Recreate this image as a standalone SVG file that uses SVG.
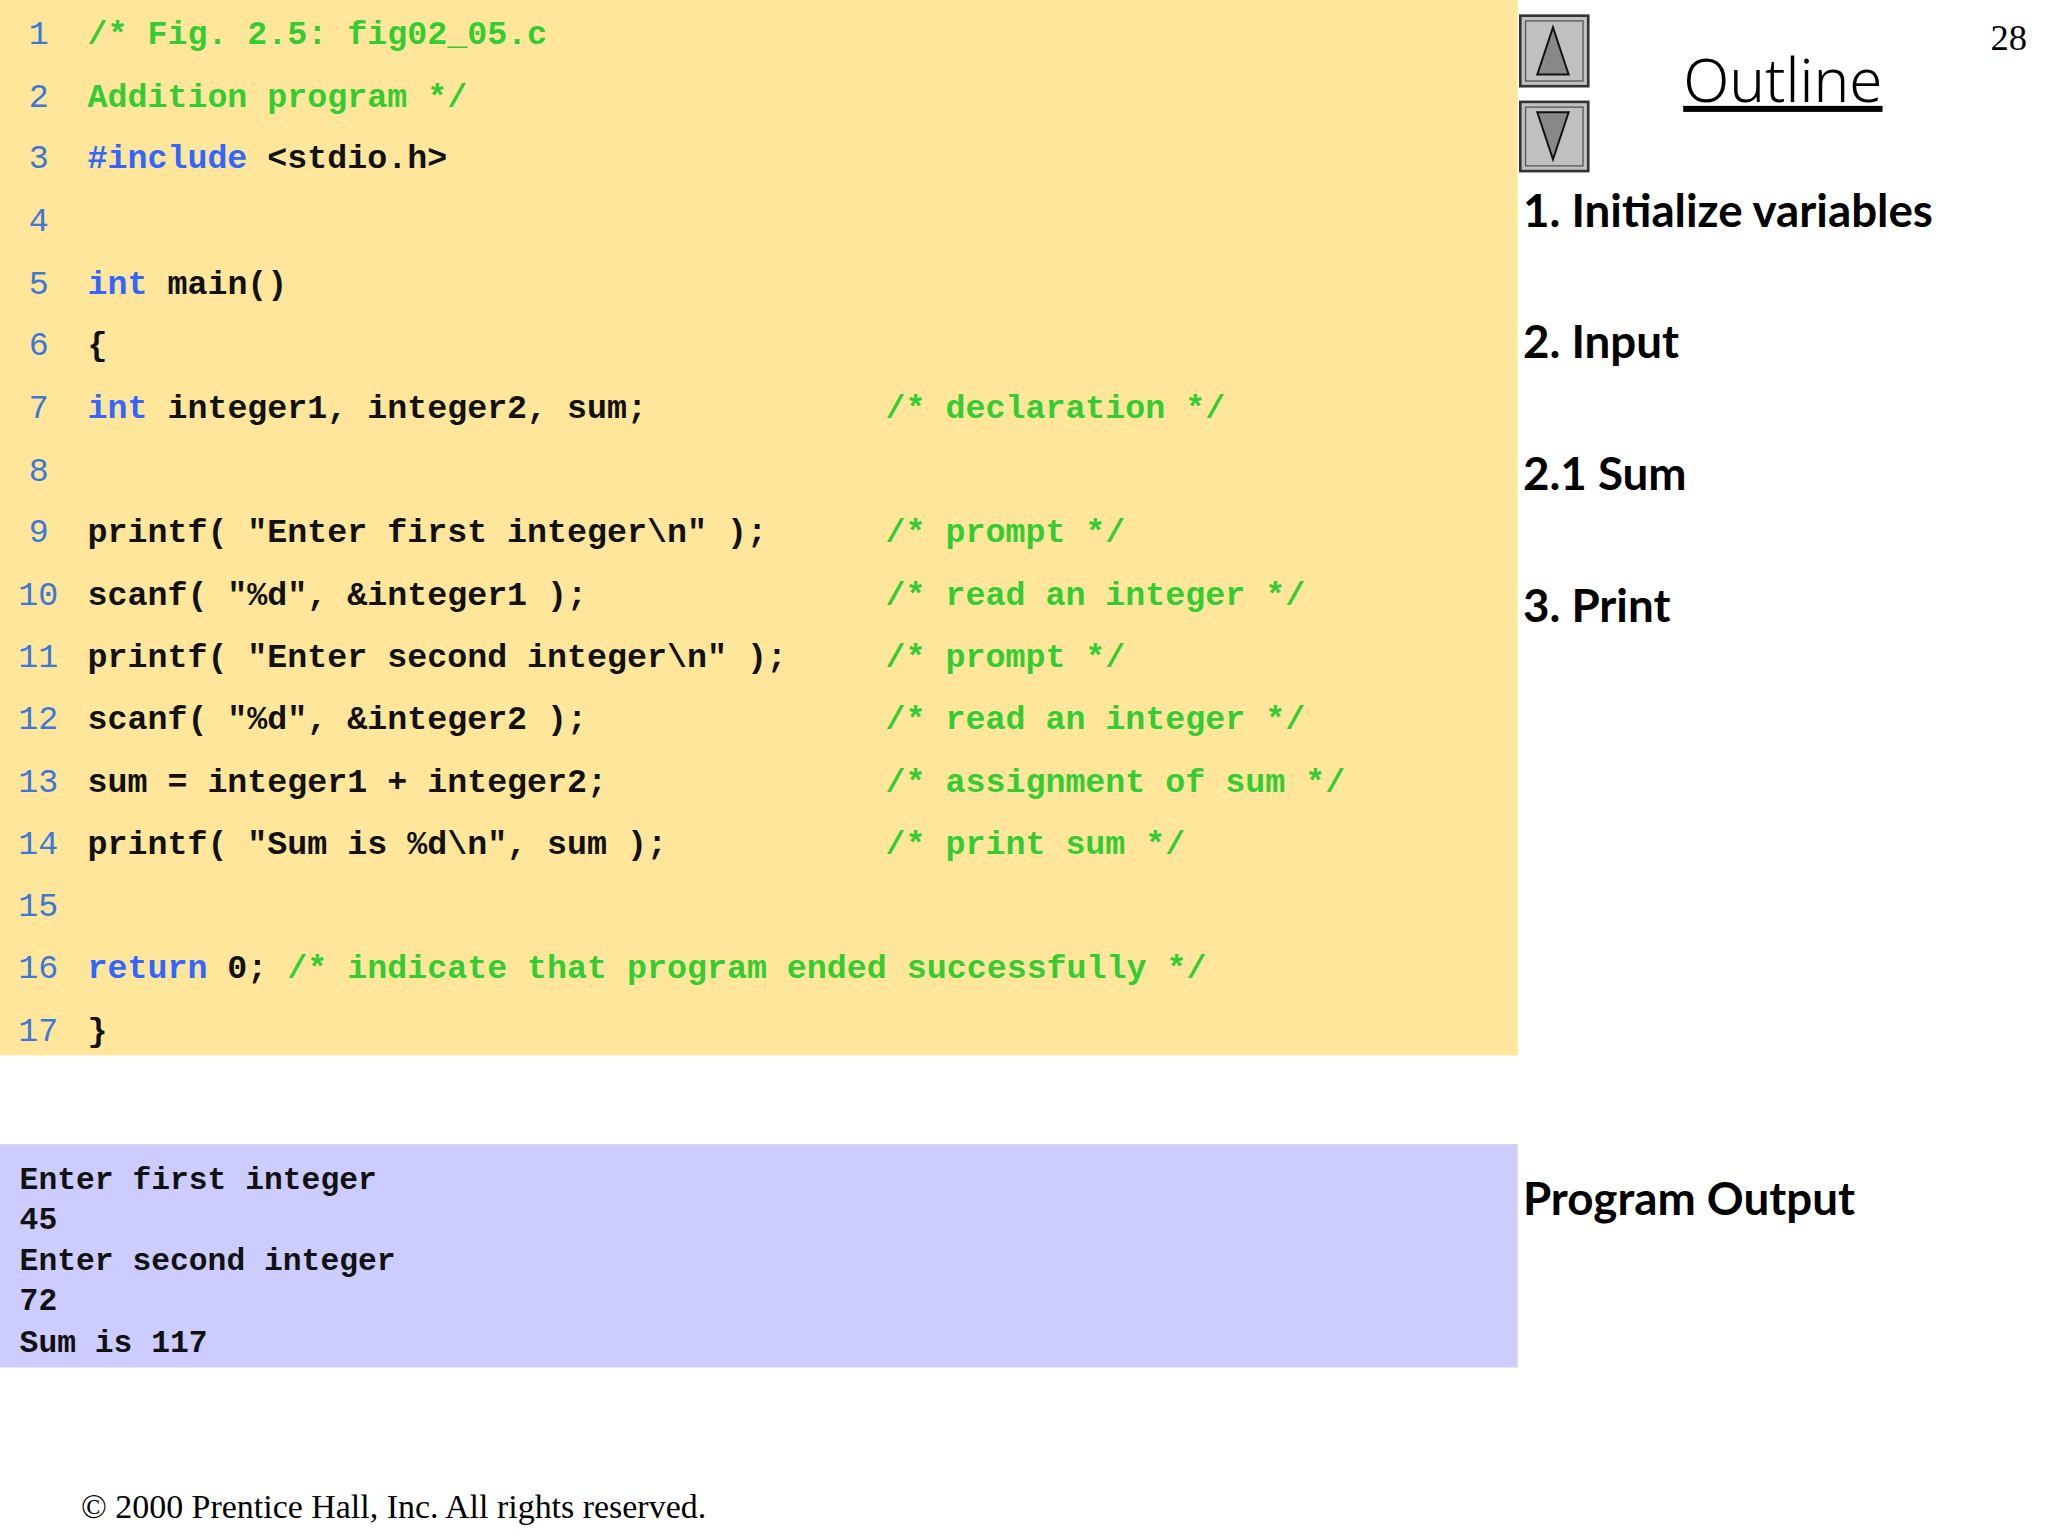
<svg xmlns="http://www.w3.org/2000/svg" width="2048" height="1536" viewBox="0 0 2048 1536">
<style>
.c{font-family:"Liberation Mono","DejaVu Sans Mono",monospace;font-weight:bold;font-size:25.5px;fill:#111;white-space:pre}
.n{fill:#3C78D8;font-weight:normal}
.k{fill:#3366FF}
.g{fill:#33CC33}
.o{font-family:"Liberation Mono",monospace;font-weight:bold;font-size:24px;fill:#111;white-space:pre}
.b{font-family:Lato,"Noto Sans",sans-serif;font-weight:bold;font-size:35px;fill:#000}
.btn{fill:#C0C0C0;stroke:#333;stroke-width:2}
.tri{fill:#888;stroke:#111;stroke-width:1.5}
</style>
<rect width="2048" height="1536" fill="#fff"/>
<g transform="scale(1.30612)">
<g id="code">
<rect x="0" y="0" width="1162" height="808" fill="#FFE69A"/>
<g class="c" xml:space="preserve">
<text x="22" y="34" class="n">1</text><text x="67" y="34" class="g">/* Fig. 2.5: fig02_05.c</text>
<text x="22" y="82" class="n">2</text><text x="67" y="82" class="g">   Addition program */</text>
<text x="22" y="129" class="n">3</text><text x="67" y="129"><tspan class="k">#include</tspan> &lt;stdio.h&gt;</text>
<text x="22" y="177" class="n">4</text>
<text x="22" y="225" class="n">5</text><text x="67" y="225"><tspan class="k">int</tspan> main()</text>
<text x="22" y="272" class="n">6</text><text x="67" y="272">{</text>
<text x="22" y="320" class="n">7</text><text x="67" y="320">   <tspan class="k">int</tspan> integer1, integer2, sum;</text><text x="678" y="320" class="g">/* declaration */</text>
<text x="22" y="368" class="n">8</text>
<text x="22" y="415" class="n">9</text><text x="67" y="415">   printf( "Enter first integer\n" );</text><text x="678" y="415" class="g">/* prompt */</text>
<text x="14" y="463" class="n">10</text><text x="67" y="463">   scanf( "%d", &amp;integer1 );</text><text x="678" y="463" class="g">/* read an integer */</text>
<text x="14" y="511" class="n">11</text><text x="67" y="511">   printf( "Enter second integer\n" );</text><text x="678" y="511" class="g">/* prompt */</text>
<text x="14" y="558" class="n">12</text><text x="67" y="558">   scanf( "%d", &amp;integer2 );</text><text x="678" y="558" class="g">/* read an integer */</text>
<text x="14" y="606" class="n">13</text><text x="67" y="606">   sum = integer1 + integer2;</text><text x="678" y="606" class="g">/* assignment of sum */</text>
<text x="14" y="654" class="n">14</text><text x="67" y="654">   printf( "Sum is %d\n", sum );</text><text x="678" y="654" class="g">/* print sum */</text>
<text x="14" y="701" class="n">15</text>
<text x="14" y="749" class="n">16</text><text x="67" y="749">   <tspan class="k">return</tspan> 0;  <tspan class="g">/* indicate that program ended successfully */</tspan></text>
<text x="14" y="797" class="n">17</text><text x="67" y="797">}</text>
</g>
</g>
<g id="output">
<rect x="0" y="876" width="1162" height="171" fill="#CCCCFF"/>
<g class="o" xml:space="preserve">
<text x="15" y="910">Enter first integer</text>
<text x="15" y="941">45</text>
<text x="15" y="972">Enter second integer</text>
<text x="15" y="1003">72</text>
<text x="15" y="1035">Sum is 117</text>
</g>
</g>
<g id="nav">
<rect x="1164" y="12" width="52" height="54" class="btn"/>
<rect x="1168" y="16" width="44" height="46" fill="none" stroke="#555" stroke-width="1"/>
<polygon points="1189,21 1177,57 1201,57" class="tri"/>
<rect x="1164" y="78" width="52" height="53" class="btn"/>
<rect x="1168" y="82" width="44" height="45" fill="none" stroke="#555" stroke-width="1"/>
<polygon points="1177,86 1201,86 1189,122" class="tri"/>
</g>
<text x="1365" y="78" text-anchor="middle" font-family="'Noto Sans',sans-serif" font-weight="300" font-size="46" text-decoration="underline">Outline</text>
<text x="1552" y="38" text-anchor="end" font-family="'Liberation Serif',serif" font-size="28">28</text>
<g id="outline">
<text x="1166" y="174" class="b">1. Initialize variables</text>
<text x="1166" y="274" class="b">2. Input</text>
<text x="1166" y="375" class="b">2.1 Sum</text>
<text x="1166" y="476" class="b">3. Print</text>
<text x="1166" y="930" class="b">Program Output</text>
</g>
<text x="62" y="1162" font-family="'Liberation Serif',serif" font-size="26">© 2000 Prentice Hall, Inc.  All rights reserved.</text>
</g>
</svg>
